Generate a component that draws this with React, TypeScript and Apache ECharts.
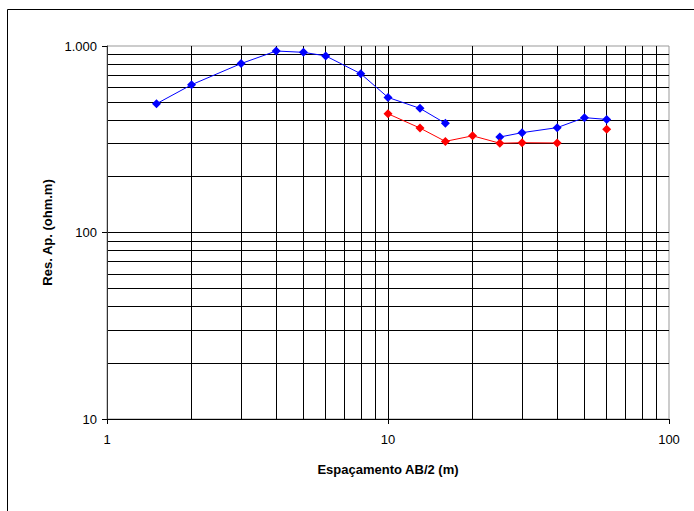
import React, { useEffect, useRef } from "react";
import * as echarts from "echarts";

const spacing = [1.5, 2, 3, 4, 5, 6, 8, 10, 13, 16, 20, 25, 30, 40, 50, 60];
const blueRes: (number | null)[] = [490, 620, 805, 940, 925, 885, 710, 530, 463, 385, null, 325, 343, 365, 413, 404];
const redRes: (number | null)[] = [null, null, null, null, null, null, null, 433, 363, 308, 330, 301, 303, 302, null, 358];
const minorX = [2, 3, 4, 5, 6, 7, 8, 9, 20, 30, 40, 50, 60, 70, 80, 90];
const minorY = [20, 30, 40, 50, 60, 70, 80, 90, 200, 300, 400, 500, 600, 700, 800, 900];

const FONT = "'Liberation Sans', Arial, sans-serif";

function toPairs(vals: (number | null)[]) {
  return spacing.map((x, i) => [x, vals[i] == null ? "-" : vals[i]]);
}

export default function App() {
  const ref = useRef<HTMLDivElement>(null);
  useEffect(() => {
    if (!ref.current) return;
    const chart = echarts.init(ref.current, undefined, { renderer: "svg" });
    const gridMarks = [
      ...minorX.map((v) => ({ xAxis: v })),
      ...minorY.map((v) => ({ yAxis: v })),
    ];
    chart.setOption({
      animation: false,
      backgroundColor: "#ffffff",
      textStyle: { fontFamily: FONT },
      grid: {
        left: 107,
        top: 46,
        right: 25,
        bottom: 92,
        show: true,
        borderColor: "#999999",
        borderWidth: 1,
        backgroundColor: "transparent",
      },
      graphic: [
        {
          type: "rect",
          left: 5,
          top: 7,
          shape: { x: 0.5, y: 0.5, width: 800, height: 600 },
          style: { fill: "none", stroke: "#000", lineWidth: 1 },
          silent: true,
          z: -1,
        },
      ],
      xAxis: {
        type: "log",
        logBase: 10,
        min: 1,
        max: 100,
        name: "Espaçamento AB/2 (m)",
        nameLocation: "middle",
        nameGap: 44,
        nameTextStyle: { fontFamily: FONT, fontSize: 13, fontWeight: "bold", color: "#000" },
        axisLine: { show: true, lineStyle: { color: "#000", width: 1 } },
        axisTick: { show: true, length: 5, inside: false, lineStyle: { color: "#000" } },
        axisLabel: { color: "#000", fontSize: 13, fontFamily: FONT, margin: 14 },
        splitLine: { show: true, showMinLine: false, showMaxLine: false, lineStyle: { color: "#000", width: 1 } },
        minorTick: { show: false },
      },
      yAxis: {
        type: "log",
        logBase: 10,
        min: 10,
        max: 1000,
        name: "Res. Ap. (ohm.m)",
        nameLocation: "middle",
        nameRotate: 90,
        nameGap: 52,
        nameTextStyle: { fontFamily: FONT, fontSize: 13, fontWeight: "bold", color: "#000" },
        axisLine: { show: true, lineStyle: { color: "#333", width: 1 } },
        axisTick: { show: true, length: 5, inside: false, lineStyle: { color: "#000" } },
        axisLabel: {
          color: "#000",
          fontSize: 13,
          fontFamily: FONT,
          margin: 10,
          formatter: (v: number) => (v >= 1000 ? String(v).replace(/\B(?=(\d{3})+(?!\d))/g, ".") : String(v)),
        },
        splitLine: { show: true, showMinLine: false, showMaxLine: false, lineStyle: { color: "#000", width: 1 } },
        minorTick: { show: false },
      },
      series: [
        {
          name: "grid",
          type: "line",
          data: [],
          silent: true,
          z: 0,
          markLine: {
            z: 0,
            silent: true,
            symbol: ["none", "none"],
            label: { show: false },
            lineStyle: { color: "#000", width: 1, type: "solid" },
            emphasis: { disabled: true },
            data: gridMarks,
          },
        },
        {
          name: "Blue",
          type: "line",
          z: 3,
          data: toPairs(blueRes),
          connectNulls: false,
          symbol: "diamond",
          symbolSize: 9,
          itemStyle: { color: "#0000ff", borderWidth: 0 },
          lineStyle: { color: "#0000ff", width: 1 },
        },
        {
          name: "Red",
          type: "line",
          z: 3,
          data: toPairs(redRes),
          connectNulls: false,
          symbol: "diamond",
          symbolSize: 9,
          itemStyle: { color: "#ff0000", borderWidth: 0 },
          lineStyle: { color: "#ff0000", width: 1 },
        },
      ],
    });
    return () => chart.dispose();
  }, []);
  return (
    <div
      ref={ref}
      style={{ position: "fixed", left: 0, top: 0, width: 694, height: 511, background: "#fff" }}
    />
  );
}
